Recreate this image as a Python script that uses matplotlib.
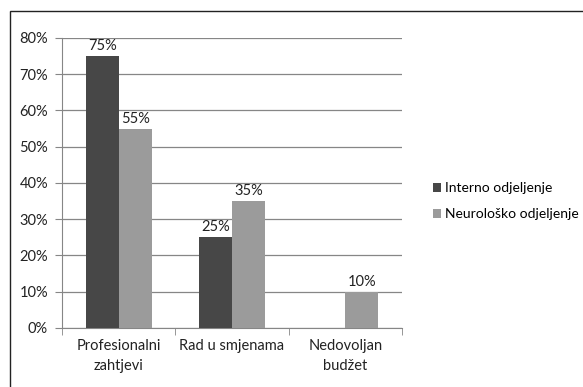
import numpy as np
import matplotlib.pyplot as plt
from matplotlib.patches import Rectangle
from matplotlib.ticker import FixedLocator, PercentFormatter

plt.rcParams['font.family'] = ['Lato', 'DejaVu Sans']

categories = ['Profesionalni\nzahtjevi', 'Rad u smjenama', 'Nedovoljan\nbudžet']
series_names = ['Interno odjeljenje', 'Neurološko odjeljenje']
interno = [75, 25, 0]
neuro = [55, 35, 10]
colors = ['#474747', '#9b9b9b']

fig = plt.figure(figsize=(5.83, 3.87), dpi=100)
fig.patches.append(Rectangle((0.0172, -0.1), 1.2, 1.0716, transform=fig.transFigure,
                             fill=False, edgecolor='#222222', linewidth=1.0))

ax = fig.add_axes([0.1063, 0.1525, 0.5832, 0.7494])
x = np.arange(len(categories))
w = 0.29
b1 = ax.bar(x - w / 2, interno, w, color=colors[0], label=series_names[0], zorder=3)
b2 = ax.bar(x + w / 2, neuro, w, color=colors[1], label=series_names[1], zorder=3)

for bars, vals in ((b1, interno), (b2, neuro)):
    for rect, v in zip(bars, vals):
        if v == 0:
            continue
        ax.text(rect.get_x() + rect.get_width() / 2, v + 0.8, f'{v}%',
                ha='center', va='bottom', fontsize=10.5, color='#222222')

ax.set_xlim(-0.5, len(categories) - 0.5)
ax.set_ylim(0, 80)
ax.set_yticks(np.arange(0, 81, 10))
ax.yaxis.set_major_formatter(PercentFormatter(decimals=0))
ax.set_xticks(x)
ax.set_xticklabels(categories, fontsize=10.5, color='#222222', linespacing=1.55)
ax.xaxis.set_minor_locator(FixedLocator([-0.5, 0.5, 1.5, 2.5]))
ax.tick_params(axis='x', which='major', length=0, pad=8)
ax.tick_params(axis='x', which='minor', length=5, color='#868686')
ax.tick_params(axis='y', length=5, color='#868686', labelsize=10.5, labelcolor='#222222', pad=5)
ax.grid(axis='y', color='#868686', linewidth=0.9, zorder=0)
for s in ['top', 'right']:
    ax.spines[s].set_visible(False)
for s in ['left', 'bottom']:
    ax.spines[s].set_color('#868686')

fig.legend(handles=[b1, b2], labels=series_names, loc='center left',
           bbox_to_anchor=(0.733, 0.48), frameon=False, fontsize=10,
           handlelength=0.6, handleheight=0.6, handletextpad=0.25, labelspacing=1.0,
           borderaxespad=0.0)

fig.savefig('out.png', dpi=100)
